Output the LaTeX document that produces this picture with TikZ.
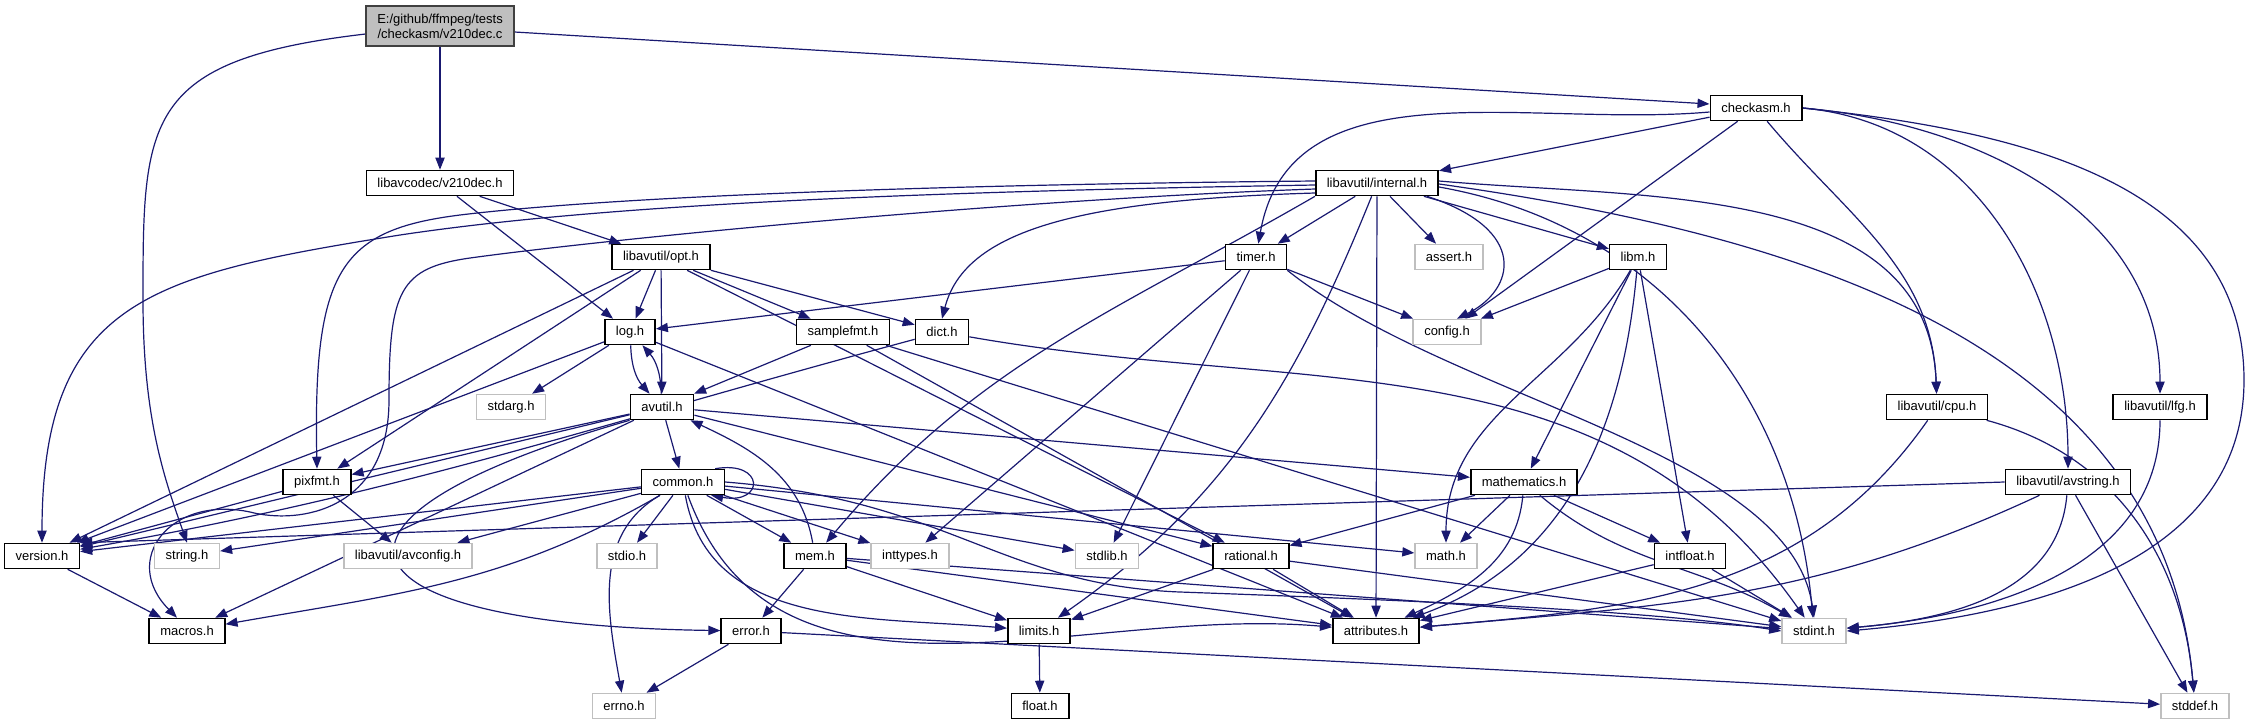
\documentclass[tikz,border=0pt]{standalone}
\usepackage{fontspec}
\setmainfont{Liberation Sans}
\usetikzlibrary{arrows.meta}
\definecolor{edgeblue}{HTML}{191970}
\definecolor{sysgray}{HTML}{BFBFBF}
\pgfdeclarelayer{bg}
\pgfsetlayers{bg,main}
\tikzset{
  hdr/.style={draw=black, line width=0.8pt, fill=white, minimum height=12.5pt,
    inner xsep=5.5pt, inner ysep=0pt, font=\fontsize{6.5}{7.5}\selectfont},
  sysbox/.style={hdr, draw=sysgray},
  rootbox/.style={hdr, draw=black!75, fill=sysgray, align=center, minimum height=20pt},
  dep/.style={draw=edgeblue, line width=0.6pt, -{Triangle[length=6pt,width=4.6pt]}}
}
\begin{document}
\begin{tikzpicture}[x=0.5pt,y=-0.5pt]
\useasboundingbox (0,0) rectangle (2249,724);

\node[rootbox] (root) at (440,26) {E:/github/ffmpeg/tests\\/checkasm/v210dec.c};
\node[hdr] (v210) at (440,183) {libavcodec/v210dec.h};
\node[hdr] (checkasm) at (1756,108) {checkasm.h};
\node[hdr] (internal) at (1377,183) {libavutil/internal.h};
\node[hdr] (opt) at (661,257) {libavutil/opt.h};
\node[hdr] (timer) at (1256,257) {timer.h};
\node[sysbox] (assert) at (1449,257) {assert.h};
\node[hdr] (libm) at (1638,257) {libm.h};
\node[hdr] (log) at (630,332) {log.h};
\node[hdr] (samplefmt) at (843,332) {samplefmt.h};
\node[hdr] (dict) at (942,332) {dict.h};
\node[sysbox] (config) at (1447,332) {config.h};
\node[sysbox] (stdarg) at (511,407) {stdarg.h};
\node[hdr] (avutil) at (662,407) {avutil.h};
\node[hdr] (cpu) at (1937,407) {libavutil/cpu.h};
\node[hdr] (lfg) at (2160,407) {libavutil/lfg.h};
\node[hdr] (pixfmt) at (317,482) {pixfmt.h};
\node[hdr] (common) at (683,482) {common.h};
\node[hdr] (mathematics) at (1524,482) {mathematics.h};
\node[hdr] (avstring) at (2068,482) {libavutil/avstring.h};
\node[hdr] (version) at (42,556) {version.h};
\node[sysbox] (string) at (187,556) {string.h};
\node[sysbox] (avconfig) at (408,556) {libavutil/avconfig.h};
\node[sysbox] (stdio) at (627,556) {stdio.h};
\node[hdr] (mem) at (815,556) {mem.h};
\node[sysbox] (inttypes) at (910,556) {inttypes.h};
\node[sysbox] (stdlib) at (1107,556) {stdlib.h};
\node[hdr] (rational) at (1251,556) {rational.h};
\node[sysbox] (math) at (1446,556) {math.h};
\node[hdr] (intfloat) at (1690,556) {intfloat.h};
\node[hdr] (macros) at (187,631) {macros.h};
\node[hdr] (error) at (751,631) {error.h};
\node[hdr] (limits) at (1039,631) {limits.h};
\node[hdr] (attributes) at (1376,631) {attributes.h};
\node[sysbox] (stdint) at (1814,631) {stdint.h};
\node[sysbox] (errno) at (624,706) {errno.h};
\node[hdr] (float) at (1040,706) {float.h};
\node[sysbox] (stddef) at (2195,706) {stddef.h};

\begin{pgfonlayer}{bg}
\draw[dep] (root) -- (v210);
\draw[dep] ([yshift=-3pt]root.east) -- ([yshift=2pt]checkasm.west);
\draw[dep] ([yshift=-4pt]root.west) .. controls (143,60) and (143,120) .. (143,300) .. controls (143,420) and (165,480) .. (string.north);

\draw[dep] (v210) -- (log);
\draw[dep] (v210) -- (opt);

\draw[dep] ([yshift=-2pt]checkasm.west) to[out=185,in=80] (timer);
\draw[dep] (checkasm) -- (internal);
\draw[dep] (checkasm) -- (config);
\draw[dep] (checkasm) to[out=-50,in=92] (cpu);
\draw[dep] (checkasm.east) to[out=-5,in=90] (avstring);
\draw[dep] (checkasm.east) to[out=-5,in=90] (lfg);
\draw[dep] (checkasm.east) to[out=-6,in=90] (2244,380) to[out=-90,in=5] (stdint.east);

\draw[dep] (internal) -- (timer);
\draw[dep] (internal) -- (assert);
\draw[dep] ([xshift=-6pt]internal.south east) .. controls (1530,230) and (1515,290) .. ([xshift=5pt]config.north);
\draw[dep] (internal) -- (libm);
\draw[dep] (internal) -- (attributes);
\draw[dep] (internal) to[out=-112,in=35] (limits);
\draw[dep] (internal.south west) to[out=-150,in=50] (mem);
\draw[dep] ([yshift=-5pt]internal.west) .. controls (1080,200) and (965,230) .. (dict.north);
\draw[dep] ([yshift=-2pt]internal.east) to[out=-10,in=95] (stdint);
\draw[dep] ([yshift=-0.5pt]internal.east) to[out=-8,in=95] (stddef);
\draw[dep] ([yshift=1pt]internal.east) to[out=-5,in=92] (cpu);
\draw[dep] ([yshift=-1pt]internal.west) .. controls (900,192) and (600,205) .. (400,235) .. controls (150,275) and (42,300) .. (version.north);
\draw[dep] ([yshift=1pt]internal.west) .. controls (900,185) and (600,198) .. (460,215) .. controls (340,230) and (313,270) .. (pixfmt.north);
\draw[dep] ([yshift=-3pt]internal.west) .. controls (1000,200) and (600,240) .. (470,258) .. controls (400,268) and (389,290) .. (389,400) .. controls (389,510) and (300,525) .. (250,512) .. controls (170,495) and (120,560) .. ([xshift=-5pt]macros.north);

\draw[dep] (timer) -- (log);
\draw[dep] (timer) -- (config);
\draw[dep] (timer) -- (inttypes);
\draw[dep] (timer) -- (stdlib);
\draw[dep] (timer.south east) .. controls (1450,400) and (1790,450) .. (stdint.north);

\draw[dep] (libm) -- (config);
\draw[dep] (libm) to[out=-120,in=90] (math);
\draw[dep] (libm) -- (mathematics);
\draw[dep] (libm) to[out=-95,in=20] (attributes);
\draw[dep] (libm) -- (intfloat);

\draw[dep] (opt) -- (log);
\draw[dep] (opt) -- (avutil);
\draw[dep] (opt) -- (dict);
\draw[dep] (opt) -- (samplefmt);
\draw[dep] (opt) -- (rational);
\draw[dep] (opt) -- (version);
\draw[dep] (opt) -- (pixfmt);

\draw[dep] (log) -- (stdarg);
\draw[dep] (log) to[bend right=20] (avutil);
\draw[dep] (log) -- (attributes);
\draw[dep] (log) -- (version);

\draw[dep] (samplefmt) -- (avutil);
\draw[dep] (samplefmt) -- (attributes);
\draw[dep] (samplefmt) -- (stdint);

\draw[dep] (dict) to[out=-10,in=125] (stdint);
\draw[dep] (dict) to[out=195,in=10] (version);

\draw[dep] (avutil) to[bend right=20] (log);
\draw[dep] (avutil) -- (common);
\draw[dep] (avutil) -- (version);
\draw[dep] (avutil) -- (macros);
\draw[dep] (avutil) -- (pixfmt);
\draw[dep] (avutil.south west) .. controls (280,520) and (330,625) .. (error);
\draw[dep] (avutil) -- (rational);
\draw[dep] (avutil) -- (mathematics);

\draw[dep] ([xshift=-5pt]common.north east) .. controls (765,460) and (765,505) .. ([xshift=-7pt]common.south east);
\draw[dep] (common) to[out=-150,in=100] (errno);
\draw[dep] (common) -- (inttypes);
\draw[dep] (common) to[out=-80,in=175] (limits);
\draw[dep] (common) -- (math);
\draw[dep] (common.east) .. controls (950,500) and (1000,585) .. (1180,592) .. controls (1400,600) and (1650,610) .. (stdint.west);
\draw[dep] (common) -- (stdio);
\draw[dep] (common) -- (stdlib);
\draw[dep] (common) -- (string);
\draw[dep] (common) to[out=-70,in=175] (attributes);
\draw[dep] (common) to[out=-150,in=10] (macros);
\draw[dep] (common) -- (version);
\draw[dep] (common) -- (avconfig);
\draw[dep] (common) -- (mem);

\draw[dep] (mem) to[out=100,in=-25] (avutil);
\draw[dep] (mem) -- (error);
\draw[dep] (mem) -- (limits);
\draw[dep] (mem) -- (attributes);
\draw[dep] (mem) -- (stdint);

\draw[dep] (error) -- (errno);
\draw[dep] (error) -- (stddef);

\draw[dep] (rational) -- (limits);
\draw[dep] (rational) -- (attributes);
\draw[dep] (rational) -- (stdint);

\draw[dep] (mathematics) -- (rational);
\draw[dep] (mathematics) -- (math);
\draw[dep] (mathematics) to[out=-95,in=25] (attributes);
\draw[dep] (mathematics) -- (intfloat);
\draw[dep] (mathematics) to[out=-40,in=150] (stdint);

\draw[dep] (intfloat) -- (attributes);
\draw[dep] (intfloat) -- (stdint);

\draw[dep] (limits) -- (float);
\draw[dep] (pixfmt) -- (avconfig);
\draw[dep] (pixfmt) -- (version);
\draw[dep] (version) -- (macros);
\draw[dep] (cpu) to[out=-125,in=5] (attributes);
\draw[dep] (cpu) to[out=-15,in=95] (stddef);
\draw[dep] (lfg) to[out=-90,in=5] (stdint);
\draw[dep] (avstring) -- (stddef);
\draw[dep] (avstring) to[out=-95,in=5] (stdint);
\draw[dep] (avstring) to[out=-155,in=5] (attributes);
\draw[dep] (avstring.west) -- (version.north east);
\end{pgfonlayer}
\end{tikzpicture}
\end{document}
